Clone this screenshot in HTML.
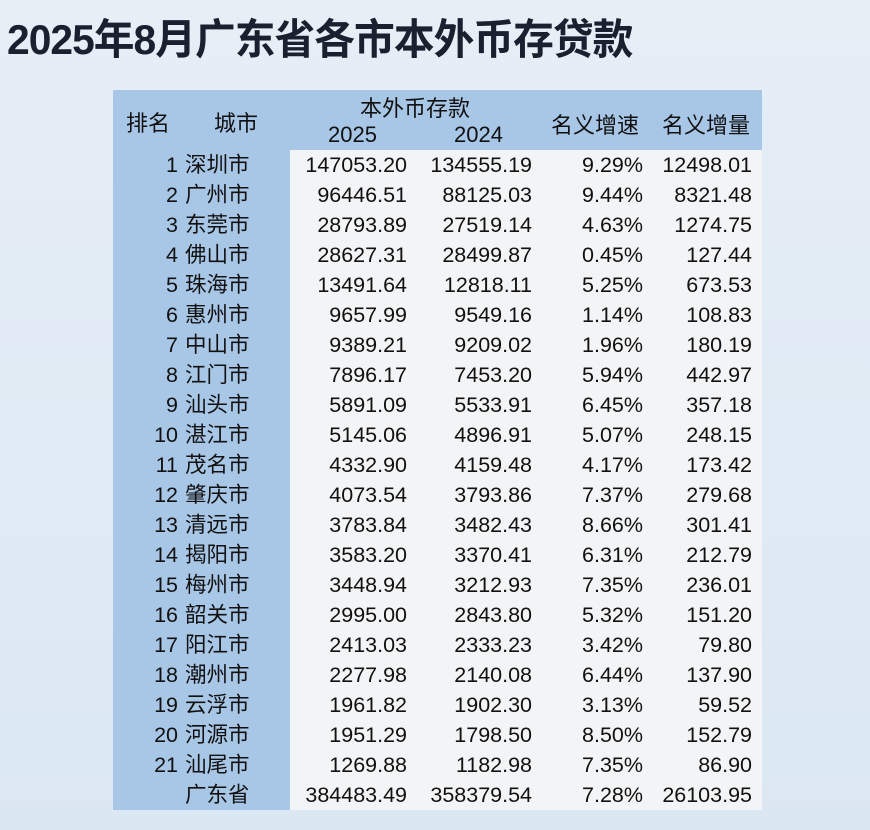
<!DOCTYPE html>
<html><head><meta charset="utf-8"><style>
body{margin:0;width:870px;height:830px;background:linear-gradient(180deg,#e6eef6,#dbe7f3);font-family:"Liberation Sans","Noto Sans CJK SC",sans-serif;position:relative;overflow:hidden;color:#111}
.t{position:absolute;left:7px;top:6px;font-size:42px;font-weight:bold;color:#1a2030;white-space:nowrap;letter-spacing:-1px;transform:scaleX(0.97);transform-origin:left}
.hd{position:absolute;background:#a8c6e6}
.body{position:absolute;left:290px;top:150px;width:472px;height:660px;background:#f3f4f5}
.side{position:absolute;left:113px;top:150px;width:177px;height:660px;background:#a8c6e6}
.r{position:absolute;left:0;width:870px;height:30px;font-size:21.5px;line-height:30px}
.r span{position:absolute;white-space:nowrap}
.a{right:692px;text-align:right}.b{left:185px}.c{right:463px}.d{right:338px}.e{right:227px}.f{right:118px}
.h{position:absolute;font-size:22px;white-space:nowrap}
</style></head><body>
<div class="t">2025年8月广东省各市本外币存贷款</div>
<div class="hd" style="left:113px;top:90px;width:649px;height:60px"></div>
<div class="side"></div>
<div class="body"></div>
<div class="h" style="left:126px;top:106px">排名</div>
<div class="h" style="left:214px;top:106px">城市</div>
<div class="h" style="left:360px;top:91px">本外币存款</div>
<div class="h" style="left:328px;top:122px">2025</div>
<div class="h" style="left:454px;top:122px">2024</div>
<div class="h" style="left:551px;top:108px">名义增速</div>
<div class="h" style="left:662px;top:108px">名义增量</div>
<div id="rows"></div>
<script>
const d=[["1","深圳市","147053.20","134555.19","9.29%","12498.01"],["2","广州市","96446.51","88125.03","9.44%","8321.48"],["3","东莞市","28793.89","27519.14","4.63%","1274.75"],["4","佛山市","28627.31","28499.87","0.45%","127.44"],["5","珠海市","13491.64","12818.11","5.25%","673.53"],["6","惠州市","9657.99","9549.16","1.14%","108.83"],["7","中山市","9389.21","9209.02","1.96%","180.19"],["8","江门市","7896.17","7453.20","5.94%","442.97"],["9","汕头市","5891.09","5533.91","6.45%","357.18"],["10","湛江市","5145.06","4896.91","5.07%","248.15"],["11","茂名市","4332.90","4159.48","4.17%","173.42"],["12","肇庆市","4073.54","3793.86","7.37%","279.68"],["13","清远市","3783.84","3482.43","8.66%","301.41"],["14","揭阳市","3583.20","3370.41","6.31%","212.79"],["15","梅州市","3448.94","3212.93","7.35%","236.01"],["16","韶关市","2995.00","2843.80","5.32%","151.20"],["17","阳江市","2413.03","2333.23","3.42%","79.80"],["18","潮州市","2277.98","2140.08","6.44%","137.90"],["19","云浮市","1961.82","1902.30","3.13%","59.52"],["20","河源市","1951.29","1798.50","8.50%","152.79"],["21","汕尾市","1269.88","1182.98","7.35%","86.90"],["","广东省","384483.49","358379.54","7.28%","26103.95"]];
let h="";d.forEach((r,i)=>{h+=`<div class="r" style="top:${150+i*30}px"><span class="a">${r[0]}</span><span class="b">${r[1]}</span><span class="c">${r[2]}</span><span class="d">${r[3]}</span><span class="e">${r[4]}</span><span class="f">${r[5]}</span></div>`});
document.getElementById("rows").innerHTML=h;
</script>
</body></html>
